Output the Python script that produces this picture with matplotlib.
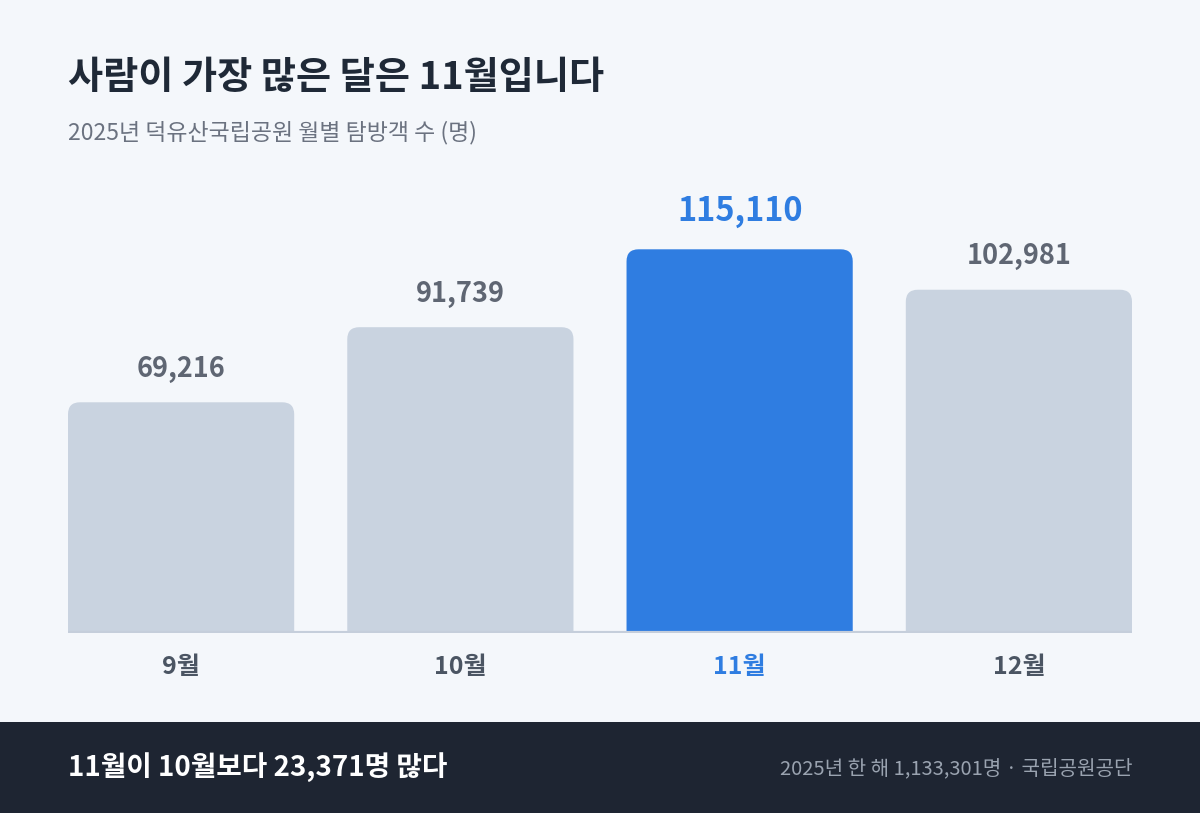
import matplotlib
matplotlib.use("Agg")
import matplotlib.pyplot as plt
from matplotlib.patches import FancyBboxPatch, Rectangle

plt.rcParams["font.family"] = ["Noto Sans CJK KR", "DejaVu Sans"]

# data
months = ["9월", "10월", "11월", "12월"]
visitors = [69216, 91739, 115110, 102981]
highlight = "11월"

title = "사람이 가장 많은 달은 11월입니다"
subtitle = "2025년 덕유산국립공원 월별 탐방객 수 (명)"
footer_left = "11월이 10월보다 23,371명 많다"
footer_right = "2025년 한 해 1,133,301명 · 국립공원공단"

BG = "#f4f7fb"
GREY_BAR = "#c9d3e0"
BLUE = "#2f7de1"
DARK = "#1f2937"
FOOT = "#1e2532"

W, H = 1200, 813
fig = plt.figure(figsize=(W / 100, H / 100), dpi=100, facecolor=BG)

# footer band
fig.patches.append(Rectangle((0, 0), 1, (H - 722) / H, transform=fig.transFigure,
                             facecolor=FOOT, edgecolor="none", zorder=0))

fig.text(68 / W, 1 - 78 / H, title, fontsize=27.5, fontweight="bold", color=DARK,
         ha="left", va="center")
fig.text(68 / W, 1 - 133 / H, subtitle, fontsize=16.5, color="#6b7280",
         ha="left", va="center")
fig.text(68 / W, 1 - 767 / H, footer_left, fontsize=20, fontweight="bold", color="white",
         ha="left", va="center")
fig.text(1132 / W, 1 - 769 / H, footer_right, fontsize=14.5, color="#9aa3b0",
         ha="right", va="center")

# bar axes
base_px = 633
ymax = 130000
ax_h = ymax / 300.0
ax = fig.add_axes([68 / W, (H - base_px) / H, (1132 - 68) / W, ax_h / H])
ax.set_facecolor("none")
bw = 0.81
ax.set_xlim(-bw / 2, len(months) - 1 + bw / 2)
ax.set_ylim(0, ymax)
for s in ax.spines.values():
    s.set_visible(False)
ax.tick_params(left=False, labelleft=False, bottom=False)

bars = ax.bar(range(len(months)), visitors, width=bw, color="none")

# rounded top corners, in pixel-correct aspect
x_per_px = (len(months) - 1 + bw) / (1132 - 68)
y_per_px = ymax / ax_h
r_px = 12
for bar, m, v in zip(bars, months, visitors):
    col = BLUE if m == highlight else GREY_BAR
    x0, w, h = bar.get_x(), bar.get_width(), bar.get_height()
    p = FancyBboxPatch((x0, -r_px * 2 * y_per_px), w, h + r_px * 2 * y_per_px,
                       boxstyle=f"round,pad=0,rounding_size={r_px * x_per_px}",
                       mutation_aspect=y_per_px / x_per_px,
                       facecolor=col, edgecolor="none", zorder=2)
    ax.add_patch(p)
    is_hl = m == highlight
    ax.annotate(f"{v:,}", (x0 + w / 2, h), xytext=(0, 15 if is_hl else 14),
                textcoords="offset points", ha="center", va="bottom",
                fontsize=23.5 if is_hl else 19.5, fontweight="bold",
                color=BLUE if is_hl else "#5f6673")

ax.axhline(0, color="#c5cedb", linewidth=3, zorder=3)

ax.set_xticks(range(len(months)))
ax.set_xticklabels(months, fontsize=18, fontweight="bold")
ax.tick_params(axis="x", pad=12)
for lbl in ax.get_xticklabels():
    lbl.set_color(BLUE if lbl.get_text() == highlight else "#4b5563")

fig.savefig("out.png", dpi=100, facecolor=BG)
